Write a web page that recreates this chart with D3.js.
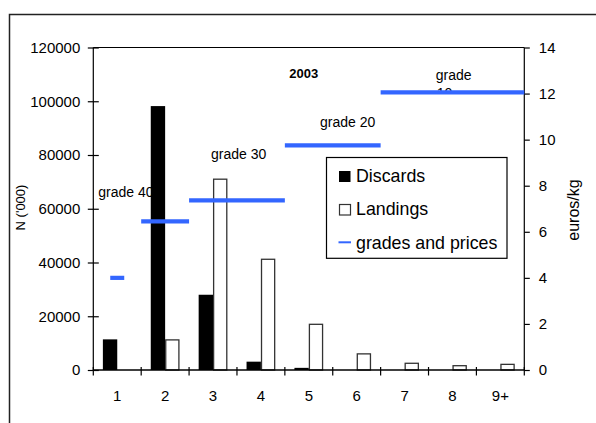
<!DOCTYPE html>
<html><head><meta charset="utf-8">
<script src="https://cdn.jsdelivr.net/npm/d3@7"></script>
<style>
html,body{margin:0;padding:0;background:#fff;}
svg{display:block;font-family:"Liberation Sans",Arial,sans-serif;}
</style></head>
<body><svg id="c" width="596" height="423"></svg>
<script>
const categories = ["1","2","3","4","5","6","7","8","9+"];
const discards = [11400, 98200, 28000, 3100, 800, 0, 0, 0, 0];
const landings = [0, 11200, 71000, 41200, 17000, 6000, 2500, 1600, 2100];
const leftTicks = [0, 20000, 40000, 60000, 80000, 100000, 120000];
const rightTicks = [0, 2, 4, 6, 8, 10, 12, 14];
const gradeNames = ["grade 40", "grade 30", "grade 20", "grade 10", "grade 10"];
const gradePrices = [4.0, 6.45, 7.36, 9.75, 12.05];
const gradeFrom = ["1", "2", "3", "5", "7"];
const gradeTo = ["1", "2", "4", "6", "9+"];
const title = "2003";

const svg = d3.select("#c");
const L = 93.3, R = 524.3, T = 47.5, B = 370;

svg.append("defs").append("clipPath").attr("id","clip10")
  .append("rect").attr("x",0).attr("y",0).attr("width",596).attr("height",91.5);

svg.append("rect").attr("x",9.5).attr("y",14.5).attr("width",620).attr("height",440)
  .attr("fill","none").attr("stroke","#222").attr("stroke-width",1.5);

const x = d3.scaleBand().domain(categories).range([L, R]).padding(0);
const yL = d3.scaleLinear().domain([0,120000]).range([B, T]);
const yR = d3.scaleLinear().domain([0,14]).range([B, T]);
const bw = x.bandwidth()*0.3;

// label partially hidden behind the top price line
svg.append("text").attr("x",436.7).attr("y",97.7).attr("font-size",14)
  .attr("clip-path","url(#clip10)").text("10");

// plot frame top
svg.append("line").attr("x1",L).attr("x2",R).attr("y1",T).attr("y2",T).attr("stroke","#000").attr("stroke-width",1.2);

// bars
svg.append("g").selectAll("rect").data(categories).join("rect")
  .attr("x", d => x(d)+x.bandwidth()/2-bw)
  .attr("y", (d,i) => yL(discards[i]))
  .attr("width", bw)
  .attr("height", (d,i) => B - yL(discards[i]))
  .attr("fill","#000");
svg.append("g").selectAll("rect").data(categories.filter((d,i)=>landings[i]>0)).join("rect")
  .attr("x", d => x(d)+x.bandwidth()/2+0.6)
  .attr("y", d => yL(landings[categories.indexOf(d)]))
  .attr("width", bw-1.2)
  .attr("height", d => B - yL(landings[categories.indexOf(d)]))
  .attr("fill","#fff").attr("stroke","#333").attr("stroke-width",1.3);

// left axis
const ax = svg.append("g").attr("transform",`translate(${L},0)`)
  .call(d3.axisLeft(yL).tickValues(leftTicks).tickSize(5.5).tickPadding(7.5).tickFormat(d3.format("d")));
ax.select(".domain").attr("stroke","#000").attr("stroke-width",1.2).attr("d",`M0,${T}V${B}`);
ax.selectAll(".tick line").attr("x1",5.5).attr("stroke","#000").attr("stroke-width",1.2);
ax.selectAll("text").attr("font-size",15).attr("fill","#000").attr("font-family","Liberation Sans, Arial, sans-serif");

// right axis
const ar = svg.append("g").attr("transform",`translate(${R},0)`)
  .call(d3.axisRight(yR).tickValues(rightTicks).tickSize(5.5).tickPadding(9));
ar.select(".domain").attr("stroke","#000").attr("stroke-width",1.2).attr("d",`M0,${T}V${B}`);
ar.selectAll(".tick line").attr("stroke","#000").attr("stroke-width",1.2);
ar.selectAll("text").attr("font-size",15).attr("fill","#000").attr("font-family","Liberation Sans, Arial, sans-serif");

// bottom axis
svg.append("line").attr("x1",L).attr("x2",R).attr("y1",B).attr("y2",B).attr("stroke","#000").attr("stroke-width",1.5);
const bounds = categories.map(d => x(d)).concat([R]);
svg.append("g").selectAll("line").data(bounds).join("line")
  .attr("x1",d=>d).attr("x2",d=>d).attr("y1",B-3).attr("y2",B+5.5)
  .attr("stroke","#000").attr("stroke-width",1.2);
const ab = svg.append("g").attr("transform",`translate(0,${B})`)
  .call(d3.axisBottom(x).tickSize(0).tickPadding(20));
ab.select(".domain").remove();
ab.selectAll("text").attr("font-size",15).attr("fill","#000").attr("font-family","Liberation Sans, Arial, sans-serif");

// grade/price lines
svg.append("g").selectAll("line").data(gradePrices).join("line")
  .attr("x1",(p,i)=> i===0 ? x(gradeFrom[i])+x.bandwidth()/2-7 : x(gradeFrom[i]))
  .attr("x2",(p,i)=> i===0 ? x(gradeTo[i])+x.bandwidth()/2+7 : x(gradeTo[i])+x.bandwidth())
  .attr("y1",p=>yR(p)).attr("y2",p=>yR(p))
  .attr("stroke","#3366ff").attr("stroke-width",4.2);

// annotations
const ann = svg.append("g").attr("font-size",14).attr("fill","#000");
ann.append("text").attr("x",98.3).attr("y",197).text(gradeNames[0]);
ann.append("text").attr("x",211).attr("y",158.5).text(gradeNames[1]);
ann.append("text").attr("x",320).attr("y",126.5).text(gradeNames[2]);
ann.append("text").attr("x",435.7).attr("y",80).text("grade");
svg.append("text").attr("x",289.3).attr("y",77.5).attr("font-size",13).attr("font-weight","bold").text(title);

// axis titles
svg.append("text").attr("transform","translate(25,207.5) rotate(-90)").attr("text-anchor","middle")
  .attr("font-size",13).text("N ('000)");
svg.append("text").attr("transform","translate(579,210) rotate(-90)").attr("text-anchor","middle")
  .attr("font-size",16).text("euros/kg");

// legend
const lg = svg.append("g");
lg.append("rect").attr("x",326.5).attr("y",157.5).attr("width",180.5).attr("height",100.8)
  .attr("fill","#fff").attr("stroke","#000").attr("stroke-width",1.2);
lg.append("rect").attr("x",339).attr("y",171).attr("width",11.5).attr("height",11).attr("fill","#000");
lg.append("rect").attr("x",339.5).attr("y",204.5).attr("width",11).attr("height",10.5).attr("fill","#fff").attr("stroke","#333").attr("stroke-width",1.2);
lg.append("line").attr("x1",338.5).attr("x2",351).attr("y1",242.3).attr("y2",242.3).attr("stroke","#3366ff").attr("stroke-width",2);
const ltxt = ["Discards","Landings","grades and prices"];
lg.selectAll("text.l").data(ltxt).join("text").attr("class","l")
  .attr("x",356).attr("y",(d,i)=>182+i*33.3).attr("font-size",17.8).text(d=>d);
</script></body></html>
